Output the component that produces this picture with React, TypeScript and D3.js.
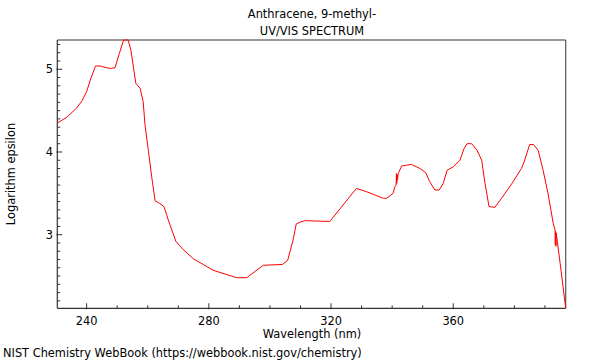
import React from "react";
import * as d3 from "d3";

const title1 = "Anthracene, 9-methyl-";
const title2 = "UV/VIS SPECTRUM";
const xLabel = "Wavelength (nm)";
const yLabel = "Logarithm epsilon";
const footer = "NIST Chemistry WebBook (https://webbook.nist.gov/chemistry)";

const xTicks = [240, 280, 320, 360];
const yTicks = [3, 4, 5];

const wavelength = [
  230.4, 233.5, 236.7, 238.5, 240.0, 241.2, 242.9, 244.4, 246.3, 247.9, 249.3, 250.7,
  252.1, 253.6, 254.5, 256.1, 257.5, 258.0, 258.5, 259.1, 260.2, 261.3, 262.4, 263.8,
  265.3, 266.2, 266.7, 269.2, 271.6, 274.9, 281.4, 289.1, 292.4, 297.8, 304.1, 305.8,
  307.6, 308.6, 309.8, 311.4, 319.6, 328.3, 331.6, 337.1, 338.2, 340.3, 340.9, 341.3,
  341.4, 341.5, 341.6, 341.7, 341.9, 342.0, 343.1, 346.3, 349.1, 351.0, 352.3, 354.0,
  355.4, 356.7, 358.0, 360.0, 362.2, 363.5, 364.5, 366.0, 367.8, 369.3, 370.3, 371.7,
  373.6, 375.8, 379.6, 382.3, 383.2, 385.0, 386.3, 387.8, 389.4, 391.0, 392.7, 393.3,
  393.4, 393.5, 393.6, 393.7, 395.0, 396.8,
];
const logEps = [
  4.35, 4.42, 4.53, 4.62, 4.73, 4.87, 5.04, 5.04, 5.02, 5.01, 5.02, 5.19,
  5.354, 5.354, 5.23, 4.83, 4.77, 4.69, 4.61, 4.33, 4.02, 3.70, 3.41, 3.38,
  3.34, 3.24, 3.18, 2.92, 2.82, 2.71, 2.57, 2.48, 2.48, 2.63, 2.64, 2.69,
  2.94, 3.13, 3.15, 3.17, 3.16, 3.56, 3.52, 3.44, 3.44, 3.50, 3.58, 3.60,
  3.74, 3.62, 3.73, 3.66, 3.71, 3.74, 3.83, 3.85, 3.80, 3.75, 3.64, 3.54,
  3.54, 3.62, 3.78, 3.82, 3.90, 4.04, 4.10, 4.10, 4.02, 3.90, 3.64, 3.34,
  3.33, 3.44, 3.64, 3.80, 3.88, 4.09, 4.09, 4.02, 3.78, 3.50, 3.14, 3.06,
  2.88, 3.04, 2.86, 3.02, 2.65, 2.11,
];

const W = 600, H = 360;
const left = 57.3, right = 565.7, top = 40, bottom = 308.3;
const font = "DejaVu Sans, sans-serif";
const fs = 11.4;

export default function App() {
  const data = wavelength.map((w, i) => ({ x: w, y: logEps[i] }));
  const x = d3.scaleLinear().domain(d3.extent(wavelength) as [number, number]).range([left, right]);
  const y = d3.scaleLinear().domain(d3.extent(logEps) as [number, number]).range([bottom, top]);
  const line = d3.line<{ x: number; y: number }>().x(d => x(d.x)).y(d => y(d.y));

  const [x0, x1] = x.domain();
  const [y0, y1] = y.domain();
  const xMinor = d3.range(Math.ceil(x0 / 10) * 10, x1 + 0.001, 10);
  const yMinor = d3.range(Math.ceil(y0 * 10), Math.floor(y1 * 10) + 1).map(v => v / 10);

  return (
    <svg width={W} height={H} style={{ position: "absolute", left: 0, top: 0, background: "#fff" }}
      fontFamily={font}>
      <rect x={0} y={0} width={W} height={H} fill="#fff" />
      <text x={312} y={18} fontSize={fs} textAnchor="middle" fill="#000">{title1}</text>
      <text x={312} y={34.5} fontSize={fs} textAnchor="middle" fill="#000">{title2}</text>

      {/* frame */}
      <line x1={left} x2={right} y1={top} y2={top} stroke="#999" strokeWidth={2} />
      <line x1={right} x2={right} y1={top} y2={bottom} stroke="#555" strokeWidth={1.2} />
      <line x1={left} x2={left} y1={top} y2={bottom} stroke="#333" strokeWidth={1.2} />
      <line x1={left} x2={right} y1={bottom} y2={bottom} stroke="#333" strokeWidth={1.2} />

      {xMinor.map(v => {
        const major = xTicks.includes(v);
        return (
          <line key={"xm" + v} x1={x(v)} x2={x(v)} y1={bottom - (major ? 5 : 3)} y2={bottom + (major ? 1 : 0)}
            stroke="#333" strokeWidth={1} />
        );
      })}
      {xTicks.map(v => (
        <text key={"xt" + v} x={x(v)} y={324.5} fontSize={fs} textAnchor="middle" fill="#000">{v}</text>
      ))}
      {yMinor.map(v => {
        const major = yTicks.some(t => Math.abs(t - v) < 1e-6);
        return (
          <line key={"ym" + v} x1={left - (major ? 1 : 0)} x2={left + (major ? 5 : 3)} y1={y(v)} y2={y(v)}
            stroke="#333" strokeWidth={1} />
        );
      })}
      {yTicks.map(v => (
        <text key={"yt" + v} x={53} y={y(v) + 4.2} fontSize={fs} textAnchor="end" fill="#000">{v}</text>
      ))}

      <path d={line(data) || ""} fill="none" stroke="#ff0000" strokeWidth={1} />

      <text x={312} y={338} fontSize={fs} textAnchor="middle" fill="#000">{xLabel}</text>
      <text transform={`translate(15,${174}) rotate(-90)`} fontSize={fs} textAnchor="middle" fill="#000">{yLabel}</text>
      <text x={3} y={357} fontSize={fs} fill="#000">{footer}</text>
    </svg>
  );
}
